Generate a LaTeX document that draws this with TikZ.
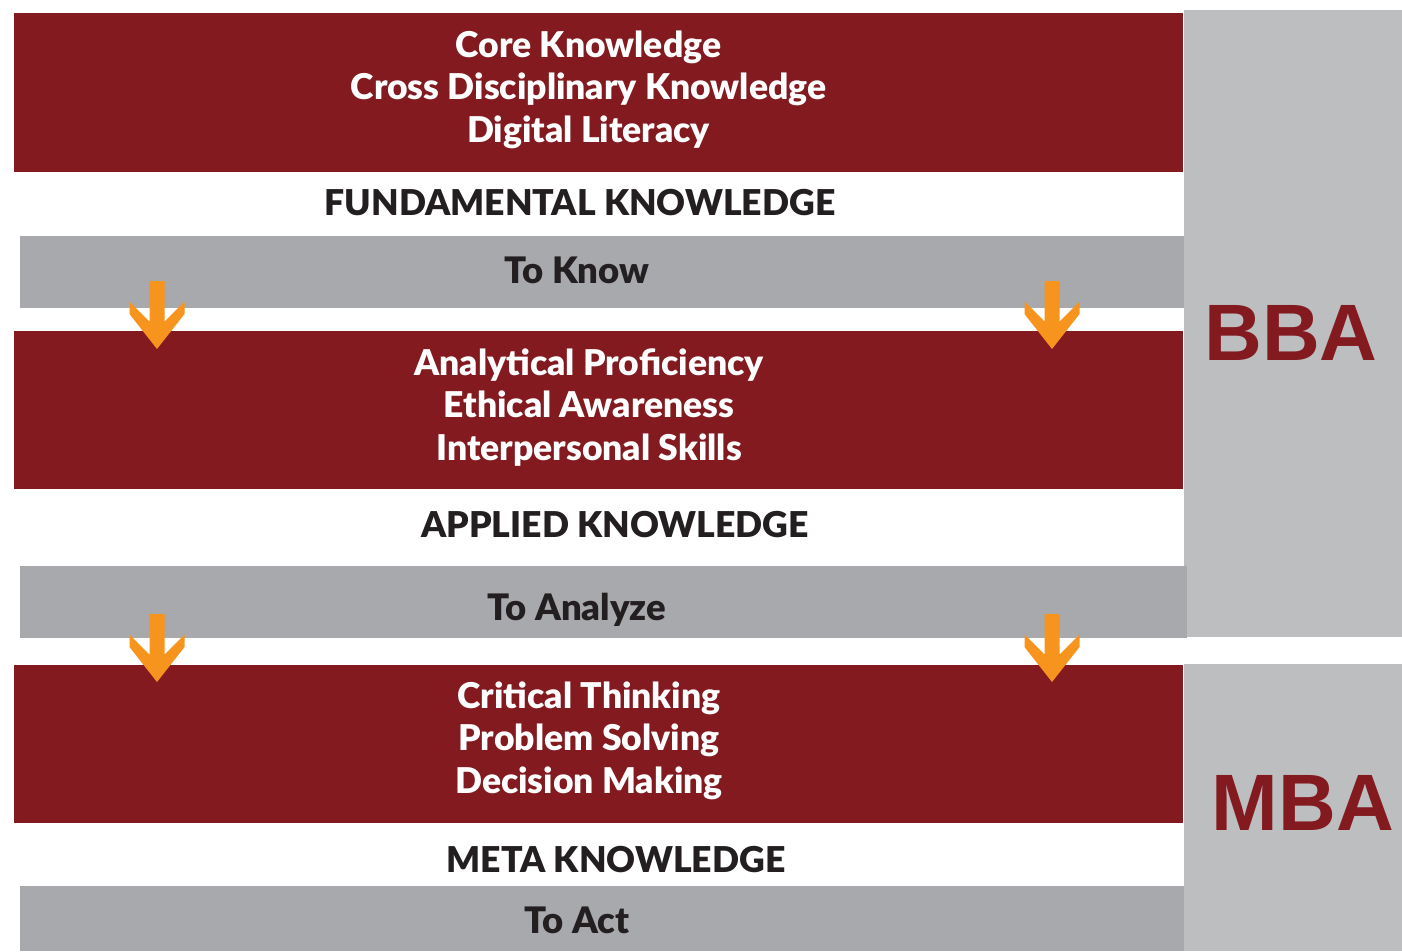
\documentclass[tikz,border=0pt]{standalone}
\usepackage{fontspec}
\newfontfamily\lato{Lato Black}
\newfontfamily\arialb{Liberation Sans}
\definecolor{maroon}{HTML}{831A20}
\definecolor{bandgray}{HTML}{A8A9AD}
\definecolor{sidegray}{HTML}{BDBEC0}
\definecolor{ink}{HTML}{231F20}
\definecolor{arroworange}{HTML}{F7941D}
\begin{document}
\begin{tikzpicture}[x=1pt,y=-1pt,
  redband/.style={fill=maroon},
  grayband/.style={fill=bandgray},
  sidepanel/.style={fill=sidegray},
  whitetxt/.style={inner sep=0pt,anchor=base,text=white,align=center,font=\lato\fontsize{35.5}{42.5}\selectfont},
  headtxt/.style={inner sep=0pt,anchor=base,text=ink,font=\lato\fontsize{35.6}{40}\selectfont},
  graytxt/.style={inner sep=0pt,anchor=base,text=ink,font=\lato\fontsize{36.5}{40}\selectfont},
  degtxt/.style={inner sep=0pt,anchor=base,text=maroon,font=\arialb\bfseries\fontsize{80}{90}\selectfont},
  downarrow/.style={fill=arroworange}
]
\useasboundingbox (0,0) rectangle (1402,951);
\fill[white] (0,0) rectangle (1402,951);
% side panels
\fill[sidepanel] (1184,10) rectangle (1402,637);
\fill[sidepanel] (1184,664) rectangle (1402,951);
% bands
\fill[redband] (14,13) rectangle (1183,172);
\fill[grayband] (20,236) rectangle (1184,308);
\fill[redband] (14,331) rectangle (1183,489);
\fill[grayband] (20,566) rectangle (1187,638);
\fill[redband] (14,665) rectangle (1183,823);
\fill[grayband] (20,886) rectangle (1184,951);
% arrows
\foreach \cx/\ty in {157/281, 1052/281, 157/614, 1052/614}{
  \fill[downarrow] (\cx-7.5,\ty) -- (\cx+7.5,\ty) -- (\cx+7.5,\ty+40.5)
    -- (\cx+27.5,\ty+20.5) -- (\cx+27.5,\ty+33) -- (\cx,\ty+68)
    -- (\cx-27.5,\ty+33) -- (\cx-27.5,\ty+20.5) -- (\cx-7.5,\ty+40.5) -- cycle;
}
% texts
\node[whitetxt] (t1) at (588.5,142) {Core Knowledge\\Cross Disciplinary Knowledge\\Digital Literacy};
\node[headtxt] (h1) at (580,215) {FUNDAMENTAL KNOWLEDGE};
\node[graytxt] (g1) at (577,283) {To Know};
\node[whitetxt] (t2) at (589,460) {Analytical Proficiency\\Ethical Awareness\\Interpersonal Skills};
\node[headtxt] (h2) at (615,537) {APPLIED KNOWLEDGE};
\node[graytxt] (g2) at (577,620) {To Analyze};
\node[whitetxt] (t3) at (589,793) {Critical Thinking\\Problem Solving\\Decision Making};
\node[headtxt] (h3) at (616,872) {META KNOWLEDGE};
\node[graytxt] (g3) at (577,933) {To Act};
\node[degtxt] (bba) at (1291,360) {BBA};
\node[degtxt] (mba) at (1303,830) {MBA};
\end{tikzpicture}
\end{document}
